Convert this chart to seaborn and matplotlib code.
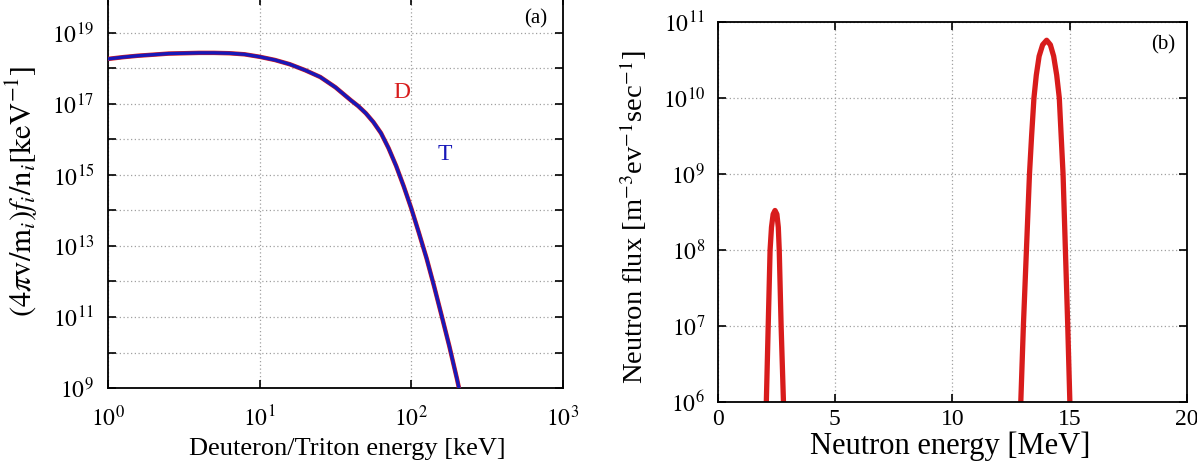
import numpy as np
import pandas as pd
import seaborn as sns
import matplotlib.pyplot as plt
from matplotlib.ticker import FixedLocator, FuncFormatter, NullLocator

# (a) deuteron / triton energy distribution
ion_energy_kev = [1.0, 1.26, 1.58, 2.0, 2.51, 3.16, 3.98, 5.01, 6.31, 7.94,
                  10.0, 12.6, 15.8, 20.0, 25.1, 31.6, 39.8, 44.7, 50.1, 56.2,
                  63.1, 70.8, 79.4, 89.1, 100.0, 112.0, 126.0, 141.0, 158.0, 178.0,
                  200.0, 206.0]
log_f_deuteron = [18.27, 18.32, 18.36, 18.39, 18.42, 18.43, 18.44, 18.44, 18.43, 18.40,
                  18.33, 18.24, 18.12, 17.95, 17.76, 17.47, 17.11, 16.94, 16.74, 16.49,
                  16.18, 15.755, 15.255, 14.68, 14.055, 13.38, 12.655, 11.88, 11.055, 10.18,
                  9.255, 9.0]
log_f_triton = [18.27, 18.32, 18.36, 18.39, 18.42, 18.43, 18.44, 18.44, 18.43, 18.40,
                18.33, 18.24, 18.12, 17.95, 17.76, 17.47, 17.11, 16.94, 16.74, 16.49,
                16.18, 15.755, 15.255, 14.68, 14.055, 13.38, 12.655, 11.88, 11.055, 10.18,
                9.255, 9.0]

# (b) neutron flux spectrum: DD peak and DT peak
dd_energy_mev = [2.08, 2.16, 2.24, 2.30, 2.37, 2.45, 2.53, 2.59, 2.63, 2.71, 2.81]
dd_log_flux = [6.0, 7.0, 8.0, 8.3, 8.47, 8.52, 8.47, 8.3, 8.0, 7.0, 6.0]
dt_energy_mev = [12.92, 13.03, 13.16, 13.29, 13.38, 13.48, 13.58, 13.70, 13.85, 14.02,
                 14.18, 14.32, 14.45, 14.56, 14.64, 14.72, 14.82, 14.92, 15.01]
dt_log_flux = [6.0, 7.0, 8.0, 9.0, 9.5, 10.0, 10.3, 10.55, 10.7, 10.76,
               10.7, 10.55, 10.3, 10.0, 9.5, 9.0, 8.0, 7.0, 6.0]

sns.set_style("ticks")
plt.rcParams['font.family'] = ['Liberation Serif', 'DejaVu Serif']
plt.rcParams['mathtext.fontset'] = 'stix'
plt.rcParams['text.color'] = 'black'

fig = plt.figure(figsize=(11.97, 4.63), dpi=100)
ax1 = fig.add_axes([108 / 1197, 1 - 388 / 463, 455 / 1197, 390.5 / 463])
ax2 = fig.add_axes([717.5 / 1197, 1 - 402 / 463, 469.5 / 1197, 380 / 463])

grid_kw = dict(color='#a0a0a0', linestyle=(0, (1, 2)), linewidth=0.9)
red = '#d81c1c'
blue = '#1818b8'

# ---- panel (a)
ax1.set_xscale('log')
ax1.set_yscale('log')
df_d = pd.DataFrame({'E': ion_energy_kev, 'f': 10 ** np.array(log_f_deuteron)})
df_t = pd.DataFrame({'E': ion_energy_kev, 'f': 10 ** np.array(log_f_triton)})
sns.lineplot(data=df_d, x='E', y='f', ax=ax1, color=red, linewidth=3.2, zorder=3)
sns.lineplot(data=df_t, x='E', y='f', ax=ax1, color=blue, linewidth=2.4, zorder=4)
ax1.set_xlim(1, 1e3)
ax1.set_ylim(1e9, 1e20)
ax1.xaxis.set_major_locator(FixedLocator([1, 10, 100, 1000]))
ax1.xaxis.set_minor_locator(NullLocator())
ax1.yaxis.set_major_locator(FixedLocator([10.0 ** k for k in range(9, 21)]))
ax1.yaxis.set_minor_locator(NullLocator())
ax1.xaxis.set_major_formatter(FuncFormatter(lambda v, _: f'$10^{{{int(round(np.log10(v)))}}}$'))
ax1.yaxis.set_major_formatter(FuncFormatter(
    lambda v, _: f'$10^{{{int(round(np.log10(v)))}}}$' if int(round(np.log10(v))) % 2 == 1 else ''))
ax1.set_xlabel('')
ax1.set_ylabel('')
ax1.grid(True, which='major', **grid_kw)
ax1.text((402 - 108) / 455, 1 - 95 / 390.5, 'D', color=red, fontsize=17, transform=ax1.transAxes,
         ha='center', va='center')
ax1.text((445 - 108) / 455, 1 - 157 / 390.5, 'T', color=blue, fontsize=17, transform=ax1.transAxes,
         ha='center', va='center')
ax1.text(1 - 27 / 455, 1 - 21 / 390.5, '(a)', fontsize=15, transform=ax1.transAxes,
         ha='center', va='center')

# ---- panel (b)
ax2.set_yscale('log')
df_dd = pd.DataFrame({'E': dd_energy_mev, 'flux': 10 ** np.array(dd_log_flux)})
df_dt = pd.DataFrame({'E': dt_energy_mev, 'flux': 10 ** np.array(dt_log_flux)})
sns.lineplot(data=df_dd, x='E', y='flux', ax=ax2, color=red, linewidth=3.8)
sns.lineplot(data=df_dt, x='E', y='flux', ax=ax2, color=red, linewidth=3.8)
ax2.set_xlim(0, 20)
ax2.set_ylim(1e6, 1e11)
ax2.xaxis.set_major_locator(FixedLocator([0, 5, 10, 15, 20]))
ax2.yaxis.set_major_locator(FixedLocator([10.0 ** k for k in range(6, 12)]))
ax2.yaxis.set_minor_locator(NullLocator())
ax2.yaxis.set_major_formatter(FuncFormatter(lambda v, _: f'$10^{{{int(round(np.log10(v)))}}}$'))
ax2.set_xlabel('')
ax2.set_ylabel('')
ax2.grid(True, which='major', **grid_kw)
ax2.text(1 - 24 / 469.5, 1 - 23 / 380, '(b)', fontsize=15, transform=ax2.transAxes,
         ha='center', va='center')

for ax in (ax1, ax2):
    for s in ax.spines.values():
        s.set_visible(True)
        s.set_color('black')
        s.set_linewidth(1.3)
    ax.tick_params(which='both', direction='in', top=True, right=True,
                   length=6, width=1.2, labelsize=17, colors='black')
    ax.set_axisbelow(True)
ax1.tick_params(axis='x', pad=13)
ax1.tick_params(axis='y', pad=10)
ax2.tick_params(axis='x', pad=5)
ax2.tick_params(axis='y', pad=9)

fig.text(22 / 1197, 1 - 191 / 463, r'$(4\pi\mathrm{v/m}_i)\mathit{f}_i/\mathrm{n}_i[\mathrm{keV}^{-1}]$',
         rotation=90, ha='center', va='center', fontsize=22)
fig.text(347 / 1197, 1 - 449 / 463, 'Deuteron/Triton energy [keV]', ha='center', va='center',
         fontsize=19)
fig.text(633 / 1197, 1 - 217 / 463, r'Neutron flux [m$^{-3}$ev$^{-1}$sec$^{-1}$]',
         rotation=90, ha='center', va='center', fontsize=20.5)
fig.text(950 / 1197, 1 - 446 / 463, 'Neutron energy [MeV]', ha='center', va='center',
         fontsize=22)

fig.savefig('out.png', dpi=100)
